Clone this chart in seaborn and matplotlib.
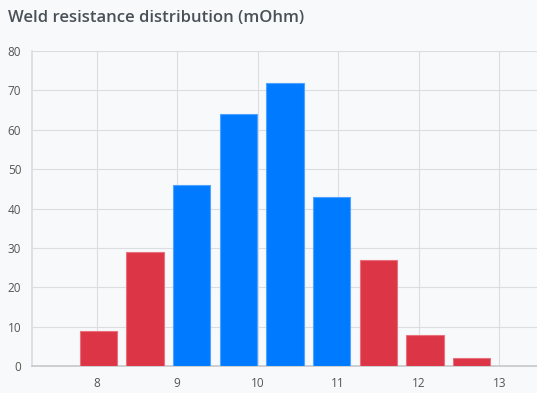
import matplotlib
matplotlib.use("Agg")
import matplotlib.pyplot as plt
import seaborn as sns
import pandas as pd

# histogram bin centres (mOhm) and counts
bin_centers = [8.02, 8.60, 9.18, 9.76, 10.34, 10.92, 11.50, 12.08, 12.66]
counts = [9, 29, 46, 64, 72, 43, 27, 8, 2]
status = ["out", "out", "in", "in", "in", "in", "out", "out", "out"]
x_ticks = [8, 9, 10, 11, 12, 13]
y_ticks = [0, 10, 20, 30, 40, 50, 60, 70, 80]

RED = "#dc3545"
BLUE = "#007bff"
BG = "#f8f9fa"
GRID = "#dcdde0"

df = pd.DataFrame({"center": bin_centers, "count": counts, "status": status})

sns.set_theme(style="white")
plt.rcParams["font.family"] = ["Open Sans", "DejaVu Sans"]

fig = plt.figure(figsize=(5.37, 3.93), dpi=100, facecolor=BG)
ax = fig.add_axes([0.0602, 0.068, 0.9398, 0.802])
ax.set_facecolor(BG)

sns.barplot(data=df, x="center", y="count", hue="status", native_scale=True,
            palette={"out": RED, "in": BLUE}, dodge=False, width=0.8,
            saturation=1, legend=False, ax=ax, zorder=3, linewidth=0.8)

# lighter outline on each bar
for p in ax.patches:
    fc = p.get_facecolor()
    p.set_edgecolor((fc[0] + (1 - fc[0]) * 0.3, fc[1] + (1 - fc[1]) * 0.3,
                     fc[2] + (1 - fc[2]) * 0.3, 1))

ax.set_xlim(7.2, 13.47)
ax.set_ylim(0, 80)
ax.set_xticks(x_ticks)
ax.set_xticklabels([str(t) for t in x_ticks])
ax.set_yticks(y_ticks)
ax.set_xlabel("")
ax.set_ylabel("")

ax.grid(True, color=GRID, linewidth=0.8, zorder=0)
for side in ["top", "right"]:
    ax.spines[side].set_visible(False)
ax.spines["left"].set_color(GRID)
ax.spines["bottom"].set_color("#c8c9cc")
ax.tick_params(axis="both", length=5, width=0.8, color=GRID,
               labelsize=8.5, labelcolor="#555555", pad=3)

fig.text(0.015, 0.955, "Weld resistance distribution (mOhm)", fontsize=12,
         fontweight="semibold", color="#495057", ha="left", va="center")

fig.savefig("out.png", dpi=100, facecolor=BG)
